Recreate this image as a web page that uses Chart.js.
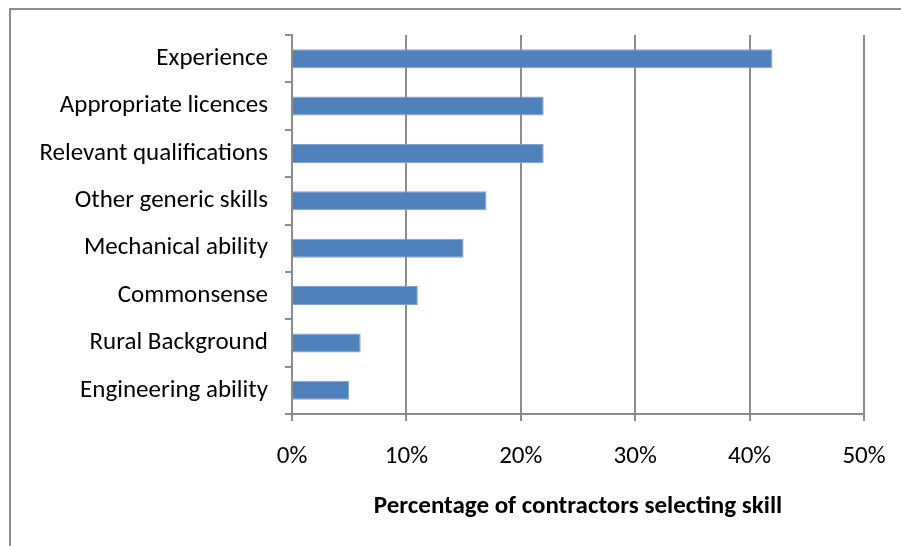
<!DOCTYPE html>
<html>
<head>
<meta charset="utf-8">
<script src="https://cdn.jsdelivr.net/npm/chart.js@4/dist/chart.umd.min.js"></script>
<style>
  html, body { margin: 0; padding: 0; background: #fff; }
  #wrap { position: relative; width: 901px; height: 546px; overflow: hidden; }
  #frame {
    position: absolute; left: 9px; top: 8px; right: -4px; bottom: -4px;
    border-top: 2px solid #8c8c8c; border-left: 2px solid #8c8c8c;
  }
  canvas { position: absolute; left: 0; top: 0; }
</style>
</head>
<body>
<div id="wrap">
  <div id="frame"></div>
  <canvas id="chart" width="901" height="546"></canvas>
</div>
<script>
// Skills named by contractors, ordered from most to least often selected
const categories = [
  'Experience',
  'Appropriate licences',
  'Relevant qualifications',
  'Other generic skills',
  'Mechanical ability',
  'Commonsense',
  'Rural Background',
  'Engineering ability'
];
// Percentage of contractors selecting each skill
const shares = [42, 22, 22, 17, 15, 11, 6, 5];
// Horizontal axis range and step, in percent
const xMin = 0;
const xMax = 50;
const xStep = 10;
const axisTitle = 'Percentage of contractors selecting skill';

Chart.defaults.font.family = "Carlito, Lato, 'Open Sans', sans-serif";
Chart.defaults.font.size = 25;
Chart.defaults.color = '#000';

new Chart(document.getElementById('chart'), {
  type: 'bar',
  data: {
    labels: categories,
    datasets: [{
      data: shares,
      backgroundColor: '#4f81bd',
      borderColor: '#7fa3d1',
      borderWidth: 1,
      barPercentage: 0.4,
      categoryPercentage: 1
    }]
  },
  options: {
    indexAxis: 'y',
    responsive: false,
    animation: false,
    layout: { padding: { top: 35, right: 37, left: 0, bottom: 0 } },
    plugins: { legend: { display: false }, tooltip: { enabled: false } },
    scales: {
      x: {
        min: xMin,
        max: xMax,
        ticks: {
          stepSize: xStep,
          padding: 21,
          callback: v => v + '%'
        },
        grid: { color: '#8c8c8c', lineWidth: 2, tickLength: 7 },
        border: { color: '#8c8c8c', width: 2 },
        title: {
          display: true,
          text: axisTitle,
          font: { weight: 'bold', size: 25 },
          padding: { top: 22, bottom: 24 }
        },
        afterFit: s => {
          s.height = 132;
          // keep the plot edge fixed regardless of the end label widths
          s.paddingLeft = 0;
          s.paddingRight = 0;
        }
      },
      y: {
        ticks: { padding: 17 },
        grid: { drawOnChartArea: false, color: '#8c8c8c', lineWidth: 2, tickLength: 7 },
        border: { color: '#8c8c8c', width: 2 },
        afterFit: s => { s.width = 292; }
      }
    }
  }
});
</script>
</body>
</html>
